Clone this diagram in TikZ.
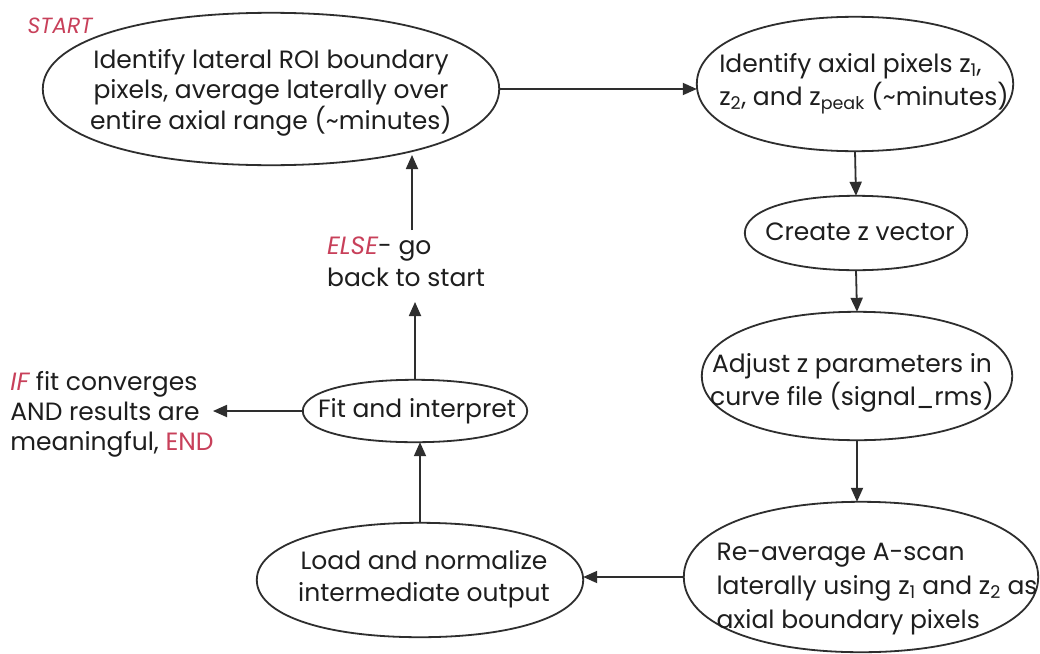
\documentclass[tikz,border=0pt]{standalone}
\usepackage{fontspec}
\setmainfont{Poppins}
\usetikzlibrary{shapes.geometric,arrows.meta,calc}
\definecolor{ink}{HTML}{1E1E1E}
\definecolor{lineink}{HTML}{2E2E2E}
\definecolor{redink}{HTML}{C8405A}
\newcommand\kk{0.6}
\newcommand\ovalpath[1]{%
 \draw[ovl] (#1.north) .. controls ($(#1.north)!\kk!(#1.north -| #1.east)$) and ($(#1.east)!\kk!(#1.north -| #1.east)$) .. (#1.east)
 .. controls ($(#1.east)!\kk!(#1.south -| #1.east)$) and ($(#1.south)!\kk!(#1.south -| #1.east)$) .. (#1.south)
 .. controls ($(#1.south)!\kk!(#1.south -| #1.west)$) and ($(#1.west)!\kk!(#1.south -| #1.west)$) .. (#1.west)
 .. controls ($(#1.west)!\kk!(#1.north -| #1.west)$) and ($(#1.north)!\kk!(#1.north -| #1.west)$) .. (#1.north);}
\begin{document}
\begin{tikzpicture}[x=1pt,y=-1pt,
  shp/.style={ellipse,draw=none,inner sep=0pt},
  ovl/.style={draw=lineink,line width=1.8pt,line join=round},
  txt/.style={text=ink,inner sep=0pt,align=center,font=\fontsize{25}{32}\selectfont},
  arr/.style={draw=lineink,line width=1.8pt,-{Triangle[length=14pt,width=12pt]}}]
\useasboundingbox (0,0) rectangle (1040,653);
\fill[white] (0,0) rectangle (1040,653);
% shapes
\node[shp,minimum width=456pt,minimum height=152pt] (e1) at (271,89) {};
\node[shp,minimum width=316pt,minimum height=134pt] (e2) at (855,84) {};
\node[shp,minimum width=222pt,minimum height=74pt] (e3) at (856,233) {};
\node[shp,minimum width=310pt,minimum height=128pt] (e4) at (857,376) {};
\node[shp,minimum width=354pt,minimum height=150pt] (e5) at (861,577) {};
\node[shp,minimum width=326pt,minimum height=114pt] (e6) at (420,580) {};
\node[shp,minimum width=224pt,minimum height=62pt] (e7) at (415,411) {};
\foreach \n in {e1,e2,e3,e4,e5,e6,e7}{\ovalpath{\n}}
% texts
\node[txt,font=\fontsize{25}{30}\selectfont] (t1) at (271,93) {Identify lateral ROI boundary\\pixels, average laterally over\\entire axial range (\textasciitilde minutes)};
\node[txt,align=left,font=\fontsize{25}{33}\selectfont] (t2) at (864,84) {Identify axial pixels z\textsubscript{1},\\z\textsubscript{2}, and z\textsubscript{peak} (\textasciitilde minutes)};
\node[txt] (t3) at (860,232) {Create z vector};
\node[txt,font=\fontsize{25}{33}\selectfont] (t4) at (852,383) {Adjust z parameters in\\curve file (signal\_rms)};
\node[txt,align=left,font=\fontsize{25}{34}\selectfont] (t5) at (877,589) {Re-average A-scan\\laterally using z\textsubscript{1} and z\textsubscript{2} as\\axial boundary pixels};
\node[txt] (t6) at (424,579) {Load and normalize\\intermediate output};
\node[txt] (t7) at (417,411) {Fit and interpret};
\node[txt,font=\fontsize{22}{26}\selectfont] (tstart) at (60,26) {\color{redink}\itshape START};
\node[txt,align=left] (telse) at (406,262) {{\color{redink}\itshape ELSE}- go\\back to start};
\node[txt,align=left,font=\fontsize{25}{30}\selectfont] (tif) at (112,414) {{\color{redink}\itshape IF} fit converges\\AND results are\\meaningful, {\color{redink}END}};
% free ends
\coordinate (c1) at (412,155);
\coordinate (elsetop) at (412,230);
\coordinate (elsebot) at (415,302);
\coordinate (iftip) at (213,411);
% connectors
\draw[arr] (e1.east) -- (e1.east -| e2.west);
\draw[arr] (e2.south) -- (e3.north);
\draw[arr] (e3.south) -- (e4.north);
\draw[arr] (e4.south) -- (e4.south |- e5.north);
\draw[arr] (e5.west) -- (e5.west -| e6.east);
\draw[arr] (e6.north) -- (e6.north |- e7.south);
\draw[arr] (e7.north) -- (elsebot);
\draw[arr] (elsetop) -- (c1);
\draw[arr] (e7.west) -- (iftip);
\end{tikzpicture}
\end{document}
